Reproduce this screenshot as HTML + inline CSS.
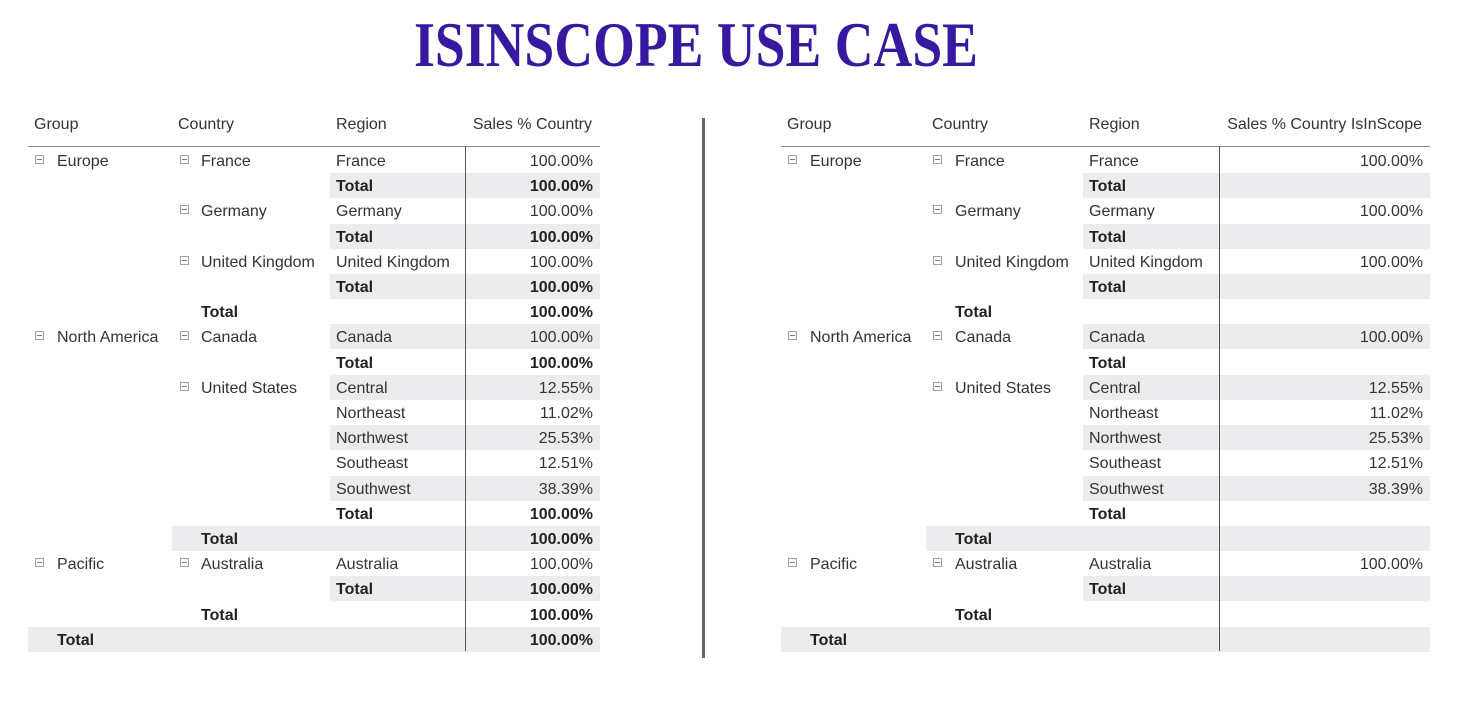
<!DOCTYPE html>
<html><head><meta charset="utf-8">
<style>
body{margin:0;width:1483px;height:720px;background:#fff;overflow:hidden;position:relative;font-family:"Liberation Sans",sans-serif;color:#333}
.a{position:absolute;white-space:nowrap;font-size:16px;line-height:25px}
.sh{position:absolute;background:#ececee;height:25px}
.b{font-weight:bold;color:#222}
.ic{position:absolute;width:9px;height:9px;border:1px solid #a0a0a0;box-sizing:border-box}
.ic::after{content:"";position:absolute;left:1px;top:3px;width:5px;height:1px;background:#777}
</style></head><body>
<svg style="position:absolute;left:0;top:0" width="1483" height="80">
<text x="414" y="66" textLength="564" lengthAdjust="spacingAndGlyphs" font-family="Liberation Serif,serif" font-weight="bold" font-size="64" fill="#3719a0">ISINSCOPE USE CASE</text>
</svg>
<div style="position:absolute;left:702px;top:118px;width:3px;height:540px;background:#666"></div>
<div id="root"></div>
<script>
const groups=["Europe","","","","","","","North America","","","","","","","","","Pacific","","",""];
const countries=["France","","Germany","","United Kingdom","","Total","Canada","","United States","","","","","","Total","Australia","","Total",""];
const regions=["France","Total","Germany","Total","United Kingdom","Total","","Canada","Total","Central","Northeast","Northwest","Southeast","Southwest","Total","","Australia","Total","","Total"];
const valuesLeft=["100.00%","100.00%","100.00%","100.00%","100.00%","100.00%","100.00%","100.00%","100.00%","12.55%","11.02%","25.53%","12.51%","38.39%","100.00%","100.00%","100.00%","100.00%","100.00%","100.00%"];
const valuesRight=["100.00%","","100.00%","","100.00%","","","100.00%","","12.55%","11.02%","25.53%","12.51%","38.39%","","","100.00%","","",""];
const shade=[0,1,0,1,0,1,0,1,0,1,0,1,0,1,0,2,0,1,0,3];
const tables=[
 {name:"left",x0:28,x1:600,gi:35,gt:57,ci:180,ct:201,rt:336,vr:593,div:465,hdr:"Sales % Country",vals:valuesLeft},
 {name:"right",x0:781,x1:1430,gi:788,gt:810,ci:933,ct:955,rt:1089,vr:1423,div:1219,hdr:"Sales % Country IsInScope",vals:valuesRight}
];
const root=document.getElementById('root');
function mk(cls,style,text){const d=document.createElement('div');d.className=cls;d.style.cssText=style;if(text!==undefined)d.textContent=text;root.appendChild(d);return d;}
tables.forEach(t=>{
  const top=148,rh=25.2;
  for(let i=0;i<regions.length;i++){
    const y=top+i*rh;
    if(shade[i]){const sx=shade[i]==1?t.rt-6:shade[i]==2?t.ct-29:t.x0;
      const s=mk('sh',`left:${sx}px;top:${y}px;width:${t.x1-sx}px`);
      
      }
  }
  let h=mk('a',`left:${t.x0+6}px;top:112px`,"Group");
  
  h=mk('a',`left:${t.ct-23}px;top:112px`,"Country");
  
  h=mk('a',`left:${t.rt}px;top:112px`,"Region");
  
  h=mk('a',`right:${1483-t.vr+1}px;top:112px`,t.hdr);
  
  const ln=mk('',`position:absolute;left:${t.x0}px;top:146px;width:${t.x1-t.x0}px;height:1px;background:#888`);
  
  const dv=mk('',`position:absolute;left:${t.div}px;top:146px;width:1px;height:505px;background:#555`);
  
  for(let i=0;i<regions.length;i++){
    const y=top+i*rh+1;
    const isGT=(i==regions.length-1);
    if(groups[i]){
      const ic=mk('ic',`left:${t.gi}px;top:${y+6}px`);
      
      const g=mk('a',`left:${t.gt}px;top:${y}px`,groups[i]);
      
    }
    if(isGT){const g=mk('a b',`left:${t.gt}px;top:${y}px`,"Total");
      }
    if(countries[i]){
      const tot=countries[i]=="Total";
      if(!tot){const ic=mk('ic',`left:${t.ci}px;top:${y+6}px`);
        }
      const c=mk('a'+(tot?' b':''),`left:${t.ct}px;top:${y}px`,countries[i]);
      
    }
    if(regions[i]&&!isGT){
      const r=mk('a'+(regions[i]=="Total"?' b':''),`left:${t.rt}px;top:${y}px`,regions[i]);
      
    }
    if(t.vals[i]){
      const bold=regions[i]=="Total"||countries[i]=="Total"||isGT;
      const v=mk('a'+(bold?' b':''),`right:${1483-t.vr}px;top:${y}px`,t.vals[i]);
      
    }
  }
});
</script>
</body></html>
